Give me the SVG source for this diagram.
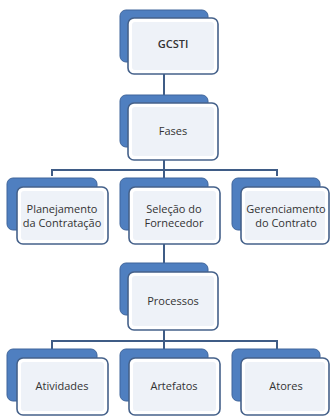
<svg xmlns="http://www.w3.org/2000/svg" width="330" height="417" viewBox="0 0 330 417">
<style>
.back{fill:#4F7FC0;stroke:#3F659B;stroke-width:1}
.frame{fill:#FFFFFF;stroke:#45618A;stroke-width:1.6}
.inner{fill:#EEF2F8}
.conn{fill:none;stroke:#3F5C86;stroke-width:2}
text{font-family:"Open Sans","Noto Sans","Liberation Sans",sans-serif;font-size:11px;fill:#333333;text-anchor:middle}
</style>
<rect width="330" height="417" fill="#FFFFFF"/>
<g id="connectors">
<path class="conn" d="M164 74V95"/>
<path class="conn" d="M164 160V170M52 176V170H277V176M164 170V178"/>
<path class="conn" d="M164 244V263"/>
<path class="conn" d="M164 330V341M52 349V341H277V349M164 341V349"/>
</g>
<g id="gcsti">
<rect class="back" x="120" y="10" width="88" height="52" rx="6"/>
<rect class="frame" x="128" y="18" width="90" height="56" rx="6"/>
<rect class="inner" x="132" y="22" width="82" height="48" rx="3"/>
<text x="173" y="48" font-size="13" font-weight="600" fill="#444444">GCSTI</text>
</g>
<g id="fases">
<rect class="back" x="120" y="95" width="88" height="52" rx="6"/>
<rect class="frame" x="128" y="103" width="90" height="57" rx="6"/>
<rect class="inner" x="132" y="107" width="82" height="49" rx="3"/>
<text x="173" y="135">Fases</text>
</g>
<g id="planejamento">
<rect class="back" x="7" y="178" width="90" height="52" rx="6"/>
<rect class="frame" x="17" y="187" width="91" height="57" rx="6"/>
<rect class="inner" x="21" y="191" width="83" height="49" rx="3"/>
<text x="62" y="213">Planejamento</text>
<text x="62" y="227">da Contratação</text>
</g>
<g id="selecao">
<rect class="back" x="120" y="178" width="88" height="52" rx="6"/>
<rect class="frame" x="129" y="187" width="91" height="57" rx="6"/>
<rect class="inner" x="133" y="191" width="83" height="49" rx="3"/>
<text x="174" y="213">Seleção do</text>
<text x="174" y="227">Fornecedor</text>
</g>
<g id="gerenciamento">
<rect class="back" x="232" y="178" width="88" height="52" rx="6"/>
<rect class="frame" x="241" y="187" width="88" height="57" rx="6"/>
<rect class="inner" x="245" y="191" width="80" height="49" rx="3"/>
<text x="286" y="213">Gerenciamento</text>
<text x="286" y="227">do Contrato</text>
</g>
<g id="processos">
<rect class="back" x="120" y="263" width="88" height="52" rx="6"/>
<rect class="frame" x="128" y="272" width="90" height="58" rx="6"/>
<rect class="inner" x="132" y="276" width="82" height="50" rx="3"/>
<text x="173" y="305">Processos</text>
</g>
<g id="atividades">
<rect class="back" x="7" y="349" width="90" height="52" rx="6"/>
<rect class="frame" x="17" y="358" width="91" height="57" rx="6"/>
<rect class="inner" x="21" y="362" width="83" height="49" rx="3"/>
<text x="62" y="390">Atividades</text>
</g>
<g id="artefatos">
<rect class="back" x="120" y="349" width="88" height="52" rx="6"/>
<rect class="frame" x="129" y="358" width="91" height="57" rx="6"/>
<rect class="inner" x="133" y="362" width="83" height="49" rx="3"/>
<text x="174" y="390">Artefatos</text>
</g>
<g id="atores">
<rect class="back" x="232" y="349" width="88" height="52" rx="6"/>
<rect class="frame" x="241" y="358" width="88" height="57" rx="6"/>
<rect class="inner" x="245" y="362" width="80" height="49" rx="3"/>
<text x="286" y="390">Atores</text>
</g>
</svg>
